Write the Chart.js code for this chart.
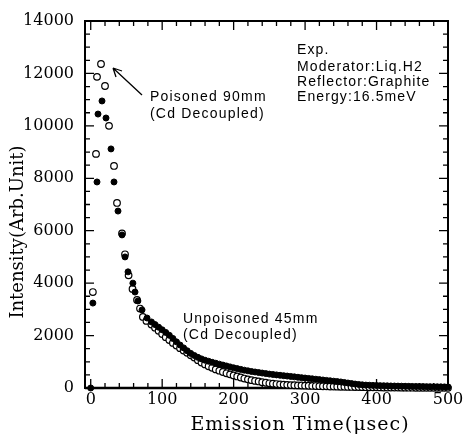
<!DOCTYPE html>
<html>
<head>
<meta charset="utf-8">
<script src="https://cdn.jsdelivr.net/npm/chart.js@4.4.1/dist/chart.umd.min.js"></script>
<style>
  html, body { margin: 0; padding: 0; background: #fff; }
  #wrap { width: 469px; height: 439px; }
</style>
</head>
<body>
<div id="wrap"><canvas id="chart" width="469" height="439"></canvas></div>
<script>
// Poisoned 90mm (open circles)
const poisonedTime = [3, 7.4, 8.8, 14.4, 20, 25.6, 32.6, 36.8, 43.8, 48, 53, 58.5, 64.8, 69, 73, 78,
    85, 90, 95, 100, 105, 110, 115, 120, 125, 130, 135, 140, 145, 150, 155, 160, 165, 170, 175, 180,
    185, 190, 195, 200, 205, 210, 215, 220, 225, 230, 235, 240, 245, 250, 255, 260, 265, 270, 275, 280,
    285, 290, 295, 300, 305, 310, 315, 320, 325, 330, 335, 340, 345, 350, 355, 360, 365, 370, 375, 380,
    385, 390, 395, 400, 405, 410, 415, 420, 425, 430, 435, 440, 445, 450, 455, 460, 465, 470, 475, 480,
    485, 490, 495, 500];
const poisonedIntensity = [3660, 8930, 11870, 12360, 11520, 10000, 8470, 7060, 5900, 5100, 4300, 3780, 3360, 3030, 2710, 2560,
    2420, 2300, 2180, 2060, 1940, 1830, 1720, 1620, 1520, 1430, 1340, 1250, 1160, 1060, 970, 900, 830, 770, 710, 660,
    610, 560, 520, 480, 440, 400, 360, 330, 300, 270, 250, 220, 200, 180, 165, 150, 140, 130, 120, 110,
    105, 100, 95, 90, 85, 80, 75, 70, 66, 62, 58, 55, 52, 48, 45, 42, 40, 37, 35, 32,
    30, 28, 26, 24, 22, 20, 19, 18, 16, 15, 14, 13, 12, 11, 10, 9, 8, 8, 7, 6,
    6, 5, 5, 5];

// Unpoisoned 45mm (filled circles)
const unpoisonedTime = [0, 3, 8.8, 10.2, 15.8, 21.4, 28.4, 32.6, 38.2, 43.8, 48, 52.2, 59, 62, 66, 71.8, 78.8,
    85, 90, 95, 100, 105, 110, 115, 120, 125, 130, 135, 140, 145, 150, 155, 160, 165, 170, 175, 180,
    185, 190, 195, 200, 205, 210, 215, 220, 225, 230, 235, 240, 245, 250, 255, 260, 265, 270, 275, 280,
    285, 290, 295, 300, 305, 310, 315, 320, 325, 330, 335, 340, 345, 350, 355, 360, 365, 370, 375, 380,
    385, 390, 395, 400, 405, 410, 415, 420, 425, 430, 435, 440, 445, 450, 455, 460, 465, 470, 475, 480,
    485, 490, 495, 500];
const unpoisonedIntensity = [0, 3240, 7860, 10450, 10950, 10300, 9120, 7860, 6750, 5840, 5000, 4430, 4000, 3660, 3320, 2980, 2670,
    2520, 2420, 2320, 2220, 2120, 2010, 1890, 1760, 1640, 1530, 1420, 1320, 1240, 1170, 1110, 1060, 1020, 980, 945, 910,
    875, 840, 805, 770, 740, 710, 680, 655, 630, 610, 590, 570, 550, 530, 515, 500, 485, 470, 455, 440,
    425, 410, 395, 380, 365, 350, 335, 320, 305, 290, 275, 260, 245, 230, 210, 190, 170, 150, 135, 120,
    110, 105, 100, 95, 90, 86, 82, 78, 75, 72, 69, 66, 63, 60, 58, 56, 54, 52, 50, 48,
    46, 44, 42, 40];

const xTicks = [0, 100, 200, 300, 400, 500];
const yTicks = [0, 2000, 4000, 6000, 8000, 10000, 12000, 14000];

const toPoints = (xs, ys) => xs.map((x, i) => ({x: x, y: ys[i]}));

// frame, inward ticks, tick labels, titles and notes
const decorations = {
    id: 'decorations',
    beforeDatasetsDraw(chart) {
        const ctx = chart.ctx;
        const a = chart.chartArea;
        const xs = chart.scales.x;
        const ys = chart.scales.y;
        ctx.save();
        ctx.strokeStyle = '#000';
        ctx.lineWidth = 2;
        ctx.strokeRect(a.left, a.top, a.right - a.left, a.bottom - a.top);
        ctx.lineWidth = 2.5;
        ctx.beginPath();
        ctx.moveTo(a.left, a.bottom); ctx.lineTo(a.right, a.bottom);
        ctx.stroke();
        ctx.lineWidth = 1.3;
        ctx.beginPath();
        for (let v = 0; v <= 500; v += 20) {
            const px = xs.getPixelForValue(v);
            const len = v % 100 === 0 ? 9 : 5;
            ctx.moveTo(px, a.bottom); ctx.lineTo(px, a.bottom - len);
            ctx.moveTo(px, a.top); ctx.lineTo(px, a.top + len);
        }
        for (let v = 0; v <= 14000; v += 500) {
            const py = ys.getPixelForValue(v);
            const len = v % 2000 === 0 ? 9 : 5;
            ctx.moveTo(a.left, py); ctx.lineTo(a.left + len, py);
            ctx.moveTo(a.right, py); ctx.lineTo(a.right - len, py);
        }
        ctx.stroke();

        ctx.fillStyle = '#000';
        ctx.font = '16px "DejaVu Serif"';
        ctx.textAlign = 'right';
        ctx.textBaseline = 'middle';
        yTicks.forEach(v => ctx.fillText(String(v), a.left - 11, ys.getPixelForValue(v)));
        ctx.textAlign = 'center';
        xTicks.forEach(v => ctx.fillText(String(v), xs.getPixelForValue(v), 400));

        ctx.font = '18px "DejaVu Serif"';
        ctx.save();
        ctx.translate(18, 232);
        ctx.rotate(-Math.PI / 2);
        ctx.fillText('Intensity(Arb.Unit)', 0, 0);
        ctx.restore();
        ctx.font = '19px "DejaVu Serif"';
        ctx.letterSpacing = '1px';
        ctx.fillText('Emission Time(\u03bcsec)', 300, 425);
        ctx.restore();
    },
    afterDatasetsDraw(chart) {
        const ctx = chart.ctx;
        ctx.save();
        ctx.fillStyle = '#000';
        ctx.strokeStyle = '#000';
        ctx.textBaseline = 'middle';
        ctx.textAlign = 'left';
        ctx.font = '14px "Liberation Sans"';
        ctx.letterSpacing = '1.2px';
        ctx.fillText('Poisoned 90mm', 150, 97);
        ctx.fillText('(Cd Decoupled)', 150, 114);
        ctx.fillText('Unpoisoned 45mm', 183, 319);
        ctx.fillText('(Cd Decoupled)', 183, 335);
        ctx.letterSpacing = '1.1px';
        ctx.fillText('Exp.', 297, 50);
        ctx.fillText('Moderator:Liq.H2', 297, 67);
        ctx.fillText('Reflector:Graphite', 297, 82);
        ctx.fillText('Energy:16.5meV', 297, 97);

        // arrow pointing at the poisoned peak
        ctx.lineWidth = 1.3;
        ctx.beginPath();
        ctx.moveTo(142, 95); ctx.lineTo(113, 68);
        ctx.moveTo(113, 68); ctx.lineTo(116, 77);
        ctx.moveTo(113, 68); ctx.lineTo(122, 71);
        ctx.stroke();
        ctx.restore();
    }
};

const chart = new Chart(document.getElementById('chart'), {
    type: 'scatter',
    data: {
        datasets: [
            {
                label: 'Unpoisoned 45mm (Cd Decoupled)',
                data: toPoints(unpoisonedTime, unpoisonedIntensity),
                pointRadius: 3,
                pointBackgroundColor: '#000',
                pointBorderColor: '#000',
                pointBorderWidth: 1,
                clip: false
            },
            {
                label: 'Poisoned 90mm (Cd Decoupled)',
                data: toPoints(poisonedTime, poisonedIntensity),
                pointRadius: 3.3,
                pointBackgroundColor: '#fff',
                pointBorderColor: '#000',
                pointBorderWidth: 1.2,
                clip: false
            }
        ]
    },
    options: {
        responsive: false,
        animation: false,
        layout: { padding: { left: 85, right: 21, top: 21, bottom: 51 } },
        plugins: { legend: { display: false }, tooltip: { enabled: false } },
        scales: {
            x: { type: 'linear', min: -8, max: 500, display: false },
            y: { type: 'linear', min: 0, max: 14000, display: false }
        }
    },
    plugins: [decorations]
});
</script>
</body>
</html>
